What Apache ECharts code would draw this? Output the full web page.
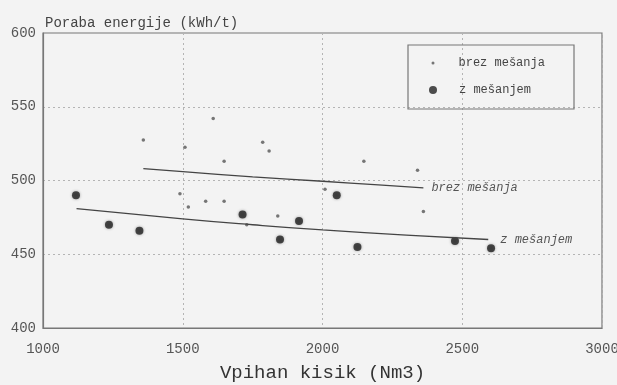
<!DOCTYPE html>
<html>
<head>
    <meta charset="utf-8">
    <title>ECharts</title>
    <script src="https://cdn.jsdelivr.net/npm/echarts@6/dist/echarts.min.js"></script>
    <style>
        html, body { margin: 0; padding: 0; background: #f3f3f3; }
    </style>
</head>
<body>
<div id="main" style="width: 617px;height:385px;"></div>
<script type="text/javascript">
    // tocke brez mesanja [kisik, poraba]
    var brezMesanja = [
        [1359, 527.5], [1490, 491], [1508, 522.5], [1520, 482], [1582, 486],
        [1609, 542], [1648, 513], [1648, 486], [1729, 470], [1786, 526],
        [1809, 520], [1840, 476], [2009, 494], [2148, 513], [2340, 507], [2361, 479]
    ];
    // tocke z mesanjem
    var zMesanjem = [
        [1118, 490], [1236, 470], [1345, 466], [1714, 477], [1848, 460],
        [1916, 472.5], [2051, 490], [2125, 455], [2474, 459], [2603, 454]
    ];
    // regresijski krivulji
    var krivuljaBrez = [[1359, 508], [1500, 506], [1750, 502.5], [2000, 499.5], [2200, 497], [2361, 495]];
    var krivuljaZ = [[1120, 481], [1500, 474], [1750, 470], [2000, 466.5], [2300, 463], [2593, 460]];

    var imeBrez = 'brez mešanja';
    var imeZ = 'z mešanjem';

    var mono = '"Liberation Mono", "DejaVu Sans Mono", monospace';

    var myChart = echarts.init(document.getElementById('main'));

    myChart.setOption({
        backgroundColor: '#f3f3f3',
        animation: false,
        title: {
            text: 'Poraba energije (kWh/t)',
            left: 40,
            top: 11,
            textStyle: { fontFamily: mono, fontSize: 14, fontWeight: 'normal', color: '#444' }
        },
        grid: {
            left: 43, right: 15, top: 33, bottom: 57,
            outerBoundsMode: 'none',
            containLabel: false,
            show: true,
            borderColor: '#777',
            borderWidth: 1.2,
            backgroundColor: 'transparent'
        },
        graphic: [{
            type: 'rect',
            shape: { x: 408, y: 45, width: 166, height: 64 },
            style: { fill: 'transparent', stroke: '#777', lineWidth: 1.2 },
            z: 10
        }],
        legend: [{
            data: [imeBrez],
            left: 431.5, top: 56, padding: 0,
            itemWidth: 3, itemHeight: 3, itemGap: 0,
            textStyle: { fontFamily: mono, fontSize: 12, color: '#444', lineHeight: 14, padding: [0, 0, 0, 19] }
        }, {
            data: [imeZ],
            left: 429, top: 83, padding: 0,
            itemWidth: 8, itemHeight: 8, itemGap: 0,
            textStyle: { fontFamily: mono, fontSize: 12, color: '#444', lineHeight: 14, padding: [0, 0, 0, 17] }
        }],
        xAxis: {
            type: 'value',
            min: 1000, max: 3000, interval: 500,
            name: 'Vpihan kisik (Nm3)',
            nameLocation: 'middle',
            nameGap: 35,
            nameTextStyle: { fontFamily: mono, fontSize: 19, color: '#333' },
            axisLine: { show: true, lineStyle: { color: '#777', width: 1.2 } },
            axisTick: { show: false },
            axisLabel: {
                fontFamily: mono, fontSize: 14, color: '#555', margin: 14,
                formatter: function (v) { return String(v); }
            },
            splitLine: { show: true, lineStyle: { color: '#b4b4b4', type: [2, 3], width: 1 } }
        },
        yAxis: {
            type: 'value',
            min: 400, max: 600, interval: 50,
            axisLine: { show: true, lineStyle: { color: '#777', width: 1.2 } },
            axisTick: { show: false },
            axisLabel: { fontFamily: mono, fontSize: 14, color: '#555', margin: 7 },
            splitLine: { show: true, lineStyle: { color: '#b4b4b4', type: [2, 3], width: 1 } }
        },
        series: [{
            name: imeBrez,
            type: 'scatter',
            data: brezMesanja,
            symbol: 'circle',
            symbolSize: 3.5,
            itemStyle: { color: '#555' }
        }, {
            name: imeZ,
            type: 'scatter',
            data: zMesanjem,
            symbol: 'circle',
            symbolSize: 8,
            itemStyle: { color: '#222', shadowBlur: 3, shadowColor: 'rgba(0,0,0,0.4)' }
        }, {
            name: 'krivulja brez',
            type: 'line',
            data: krivuljaBrez,
            smooth: true,
            showSymbol: false,
            lineStyle: { color: '#444', width: 1.3 },
            endLabel: {
                show: true,
                formatter: imeBrez,
                distance: 8,
                fontFamily: mono, fontSize: 12, fontStyle: 'italic', color: '#555'
            }
        }, {
            name: 'krivulja z',
            type: 'line',
            data: krivuljaZ,
            smooth: true,
            showSymbol: false,
            lineStyle: { color: '#444', width: 1.3 },
            endLabel: {
                show: true,
                formatter: imeZ,
                distance: 12,
                fontFamily: mono, fontSize: 12, fontStyle: 'italic', color: '#555'
            }
        }]
    });
</script>
</body>
</html>
